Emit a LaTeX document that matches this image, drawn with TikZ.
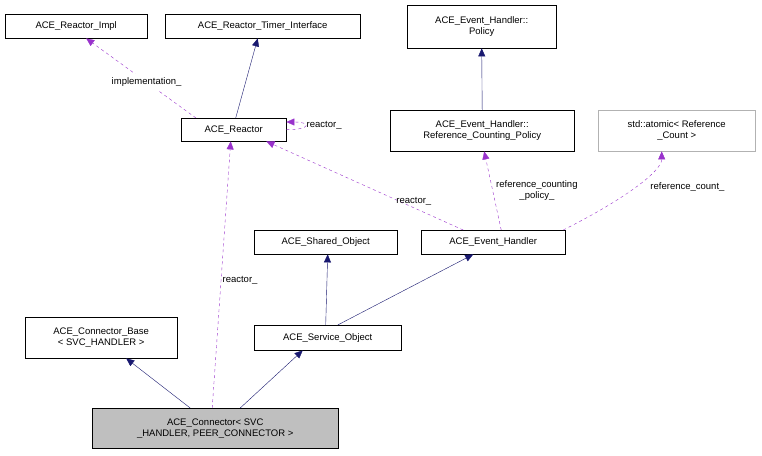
\documentclass[tikz,border=0pt]{standalone}
\usepackage{fontspec}
\setmainfont{Liberation Sans}
\usetikzlibrary{arrows.meta,calc}
\definecolor{navy}{RGB}{25,25,112}
\definecolor{purp}{RGB}{153,50,204}
\begin{document}
\begin{tikzpicture}[x=1pt,y=-1pt,
  box/.style={draw=black,fill=white,inner sep=0pt,font=\fontsize{9.5}{11}\selectfont,align=center,anchor=north west},
  inh/.style={navy,-{Triangle[length=8pt,width=7pt]}},
  use/.style={purp,dashed,-{Triangle[length=8pt,width=7pt]}},
  lab/.style={font=\fontsize{9.5}{11}\selectfont,align=center,text=black}]
\useasboundingbox[fill=white] (0,0) rectangle (762,455);
\node[box,minimum width=142,minimum height=24] (impl) at (5,14) {ACE\_Reactor\_Impl};
\node[box,minimum width=195,minimum height=24] (timer) at (165,14) {ACE\_Reactor\_Timer\_Interface};
\node[box,minimum width=149,minimum height=43] (policy) at (407,5) {ACE\_Event\_Handler::\\Policy};
\node[box,minimum width=105,minimum height=23] (reactor) at (181,118) {ACE\_Reactor};
\node[box,minimum width=184,minimum height=41] (rcp) at (390,110) {ACE\_Event\_Handler::\\Reference\_Counting\_Policy};
\node[box,draw=gray!60,minimum width=157,minimum height=41] (atomic) at (598,110) {std::atomic< Reference\\\_Count >};
\node[box,minimum width=143,minimum height=24] (shared) at (254,230) {ACE\_Shared\_Object};
\node[box,minimum width=144,minimum height=24] (eh) at (421,230) {ACE\_Event\_Handler};
\node[box,minimum width=152,minimum height=41] (base) at (25,317) {ACE\_Connector\_Base\\< SVC\_HANDLER >};
\node[box,minimum width=147,minimum height=25] (svc) at (254,325) {ACE\_Service\_Object};
\node[box,fill=gray!50,minimum width=246,minimum height=40] (conn) at (92,408) {ACE\_Connector< SVC\\\_HANDLER, PEER\_CONNECTOR >};

\draw[use] ($(reactor.north west)+(15,0)$) -- node[lab,fill=white,pos=0.45]{implementation\_} ($(impl.south)+(10,0)$);
\draw[inh] ($(reactor.north)+(2,0)$) -- ($(timer.south)+(-5,0)$);
\draw[use] (reactor.east) .. controls +(25,0) and +(25,0) .. node[lab,right,xshift=-2]{reactor\_} ($(reactor.north east)+(0,4)$);
\draw[inh] (rcp.north) -- (policy.south);
\draw[use] ($(eh.north)+(-30,0)$) -- node[lab,pos=0.2,above,yshift=3,xshift=-10]{reactor\_} ($(reactor.south east)+(-20,0)$);
\draw[use] ($(eh.north)+(8,0)$) -- node[lab,right]{reference\_counting\\\_policy\_} ($(rcp.south)+(2,0)$);
\draw[use] ($(eh.north)+(70,0)$) .. controls +(60,-30) and +(0,20) .. node[lab,right,xshift=12,pos=0.5]{reference\_count\_} ($(atomic.south)+(-15,0)$);
\draw[inh] ($(svc.north)+(-2,0)$) -- ($(shared.south)+(2,0)$);
\draw[inh] ($(svc.north)+(10,0)$) -- ($(eh.south)+(-20,0)$);
\draw[inh] ($(conn.north)+(-25,0)$) -- ($(base.south)+(25,0)$);
\draw[inh] ($(conn.north)+(25,0)$) -- ($(svc.south)+(-25,0)$);
\draw[use] ($(conn.north)+(-3,0)$) -- node[lab,pos=0.48,right,xshift=-2]{reactor\_} ($(reactor.south)+(-3,0)$);
\end{tikzpicture}
\end{document}
